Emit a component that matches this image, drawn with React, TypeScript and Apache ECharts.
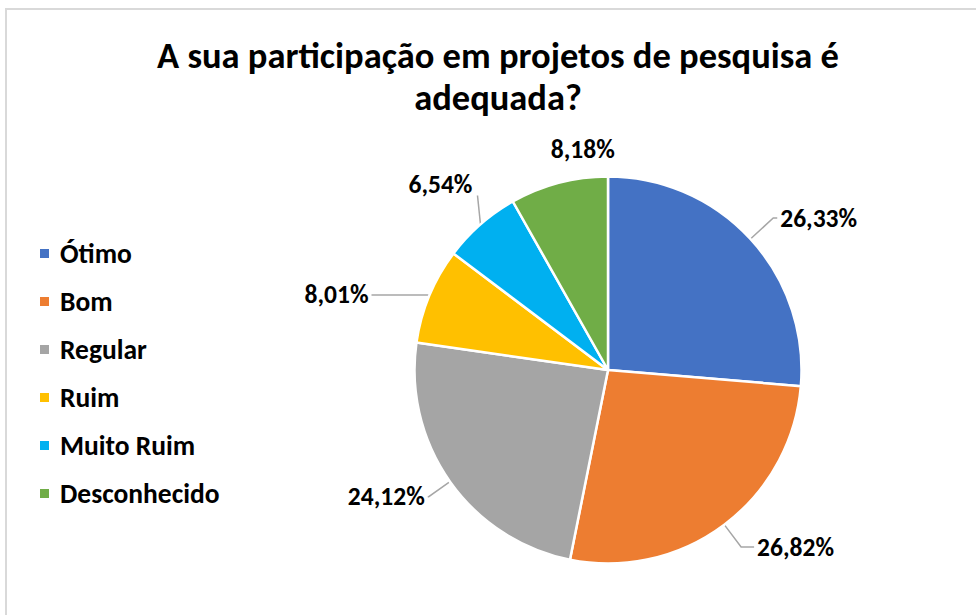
import React, { useEffect, useRef } from "react";
import * as echarts from "echarts";

const titleLines = ["A sua participação em projetos de pesquisa é", "adequada?"];
const categories = ["Ótimo", "Bom", "Regular", "Ruim", "Muito Ruim", "Desconhecido"];
const values = [26.33, 26.82, 24.12, 8.01, 6.54, 8.18];
const colors = ["#4472C4", "#ED7D31", "#A5A5A5", "#FFC000", "#00B0F0", "#70AD47"];

// label leader-line styling per slice (style only, not data)
const lineLengths: ([number, number] | null)[] = [[31, 4], [28, 13], [26, 1], [2, 56], null, null];
// offsets of labels placed above the slice edge (relative to slice edge point)
const labelShift: ([number, number] | null)[] = [null, null, null, null, [-40, -40], [24, -33]];
const showLine = [true, true, true, true, true, false];

const FONT = "Carlito, Calibri, 'Open Sans', 'Liberation Sans', sans-serif";

export default function App() {
  const ref = useRef<HTMLDivElement>(null);
  useEffect(() => {
    if (!ref.current) return;
    const chart = echarts.init(ref.current, undefined, { renderer: "svg" });
    const data = categories.map((name, i) => ({
      name,
      value: values[i],
      itemStyle: { color: colors[i] },
      labelLine: {
        show: showLine[i],
        ...(lineLengths[i] ? { length: lineLengths[i]![0], length2: lineLengths[i]![1] } : {}),
      },
    }));
    chart.setOption({
      animation: false,
      backgroundColor: "#ffffff",
      graphic: [
        {
          type: "rect",
          silent: true,
          shape: { x: 6, y: 9, width: 1100, height: 800 },
          style: { fill: "none", stroke: "#D9D9D9", lineWidth: 2 },
        },
        {
          type: "text",
          x: 498,
          y: 34,
          style: {
            text: titleLines.join("\n"),
            fontSize: 36.5,
            fontWeight: "bold",
            fontFamily: FONT,
            fill: "#000000",
            align: "center",
            lineHeight: 42,
          },
        },
      ],
      legend: {
        orient: "vertical",
        left: 33,
        top: 234.5,
        icon: "rect",
        itemWidth: 11,
        itemHeight: 11,
        itemGap: 20,
        data: categories,
        textStyle: {
          fontSize: 27.5,
          fontWeight: "bold",
          fontFamily: FONT,
          color: "#000000",
          lineHeight: 27,
          padding: [0, 0, 0, 5],
        },
      },
      series: [
        {
          type: "pie",
          center: [608, 370],
          radius: 193.5,
          startAngle: 90,
          clockwise: true,
          avoidLabelOverlap: false,
          itemStyle: { borderColor: "#ffffff", borderWidth: 2.5 },
          label: {
            show: true,
            position: "outside",
            fontSize: 25.5,
            fontWeight: "bold",
            fontFamily: FONT,
            color: "#000000",
            distanceToLabelLine: 3,
            formatter: (p: any) => p.value.toFixed(2).replace(".", ",") + "%",
          },
          labelLine: {
            show: true,
            length: 20,
            length2: 8,
            lineStyle: { color: "#A6A6A6", width: 1.5 },
          },
          labelLayout: (params: any) => {
            const s = labelShift[params.dataIndex];
            if (!s || !params.labelLinePoints) return {};
            const p0 = params.labelLinePoints[0];
            const cx = p0[0] + s[0];
            const cy = p0[1] + s[1];
            const bottom = cy + params.labelRect.height / 2 - 2;
            return {
              x: cx,
              y: cy,
              align: "center",
              verticalAlign: "middle",
              labelLinePoints: [
                [p0[0], p0[1]],
                [p0[0] - 3, bottom],
                [p0[0] - 3, bottom],
              ],
            };
          },
          data,
        },
      ],
    });
    return () => chart.dispose();
  }, []);
  return (
    <div
      ref={ref}
      style={{ position: "fixed", left: 0, top: 0, width: 976, height: 615 }}
    />
  );
}
